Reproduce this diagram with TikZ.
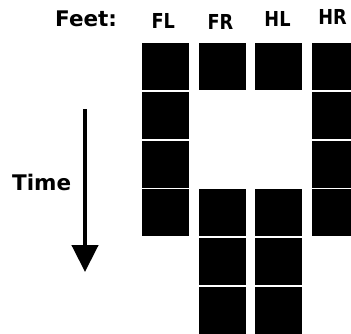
\documentclass[tikz,border=0pt]{standalone}
\usepackage{fontspec}
\setmainfont{DejaVu Sans}
\newfontfamily\boldfont{DejaVu Sans Bold}
\newfontfamily\condbold[FakeStretch=0.86]{DejaVu Sans Bold}
\usetikzlibrary{arrows.meta}
\begin{document}
\begin{tikzpicture}[x=1pt,y=-1pt,
  cell/.style={fill=black, draw=none, inner sep=0pt, minimum width=47pt, minimum height=47pt},
  foot/.style={inner sep=0pt, anchor=base, font=\condbold\fontsize{20.6}{22}\selectfont},
  title/.style={inner sep=0pt, font=\boldfont\fontsize{21.5}{24}\selectfont}]
\useasboundingbox (0,0) rectangle (351,333);
\clip (0,0) rectangle (351,333);
% headings
\node[title, anchor=base west] (feet) at (55,26.7) {Feet:};
\node[foot] (lFL) at (163.3,28.3) {FL};
\node[foot] (lFR) at (220.5,29) {FR};
\node[foot] (lHL) at (277.5,26.7) {HL};
\node[foot] (lHR) at (332.5,24.3) {HR};
% cells
\foreach \r in {1,...,4} {
  \node[cell] (FL\r) at (165.5,{66.5+48.8*(\r-1)}) {};
  \node[cell] (HR\r) at (335.5,{66.5+48.8*(\r-1)}) {};
}
\foreach \r in {1,4,5,6} {
  \node[cell] (FR\r) at (222,{66.5+48.8*(\r-1)}) {};
  \node[cell] (HL\r) at (278.5,{66.5+48.8*(\r-1)}) {};
}
% time arrow
\node[title, anchor=base west] (time) at (12,190) {Time};
\coordinate (tstart) at (85,109);
\coordinate (tend) at (85,272);
\draw[line width=4.5pt, -{Triangle[width=26pt,length=27pt]}] (tstart) -- (tend);
\end{tikzpicture}
\end{document}
